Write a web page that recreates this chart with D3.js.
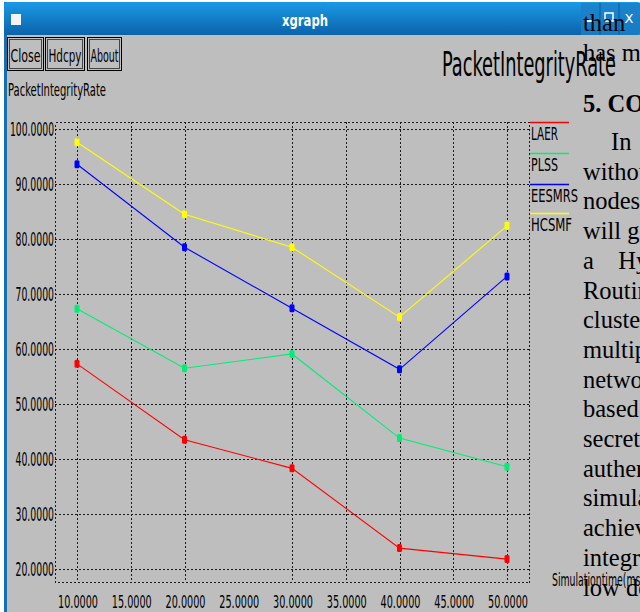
<!DOCTYPE html>
<html>
<head>
<meta charset="utf-8">
<script src="https://cdn.jsdelivr.net/npm/d3@7"></script>
<style>
  body { margin: 0; background: #fff; }
  svg { display: block; }
  .xg { font-family: "Liberation Sans Narrow", "DejaVu Sans Condensed", "Liberation Sans", sans-serif; fill: #000; }
  .doc { font-family: "Liberation Serif", "DejaVu Serif", serif; font-size: 24.5px; fill: #000; }
</style>
</head>
<body>
<div id="chart"></div>
<script>
// Packet integrity rate vs simulation time (xgraph screenshot)
const xValues = [10, 20, 30, 40, 50];
const seriesNames = ["LAER", "PLSS", "EESMRS", "HCSMF"];
const laer   = [57.3, 43.5, 38.3, 23.8, 21.8];
const plss   = [67.3, 56.5, 59.1, 43.8, 38.6];
const eesmrs = [93.6, 78.5, 67.4, 56.3, 73.2];
const hcsmf  = [97.6, 84.5, 78.5, 65.8, 82.4];
const seriesColors = ["#ff0000", "#00ee76", "#0000ff", "#ffff00"];

const xTicks = [10, 15, 20, 25, 30, 35, 40, 45, 50];
const xTickLabels = ["10.0000", "15.0000", "20.0000", "25.0000", "30.0000", "35.0000", "40.0000", "45.0000", "50.0000"];
const yTicks = [20, 30, 40, 50, 60, 70, 80, 90, 100];
const yTickLabels = ["20.0000", "30.0000", "40.0000", "50.0000", "60.0000", "70.0000", "80.0000", "90.0000", "100.0000"];

// words of the document page lying over the right edge of the screenshot
const docTop = ["than", "has more"];
const docHeading = "5. CONCLUSION";
const docLines = ["In", "without", "nodes", "will get", "a    Hybrid", "Routing", "clusters", "multipath",
  "network", "based", "secret", "authentication", "simulation", "achieve", "integrity", "low delay"];

const width = 640, height = 612;
const frame = { left: 55, right: 529, top: 122, bottom: 582 };
const gray = "#bebebe";

const svg = d3.select("#chart").append("svg")
  .attr("width", width)
  .attr("height", height);

// window body
svg.append("rect").attr("width", width).attr("height", height).attr("fill", "#fff");
svg.append("rect").attr("x", 4).attr("y", 2).attr("width", width - 4).attr("height", height - 2).attr("fill", gray);
svg.append("rect").attr("x", 4).attr("y", 2).attr("width", 3).attr("height", height - 2).attr("fill", "#1570b0");

// title bar
const grad = svg.append("defs").append("linearGradient")
  .attr("id", "tb").attr("x1", 0).attr("y1", 0).attr("x2", 0).attr("y2", 1);
grad.append("stop").attr("offset", "0%").attr("stop-color", "#1a9ae6");
grad.append("stop").attr("offset", "100%").attr("stop-color", "#0b63aa");
svg.append("rect").attr("x", 4).attr("y", 2).attr("width", width - 4).attr("height", 33).attr("rx", 3).attr("fill", "url(#tb)");
svg.append("rect").attr("x", 11).attr("y", 14).attr("width", 10).attr("height", 11).attr("fill", "#f4f4f4");
svg.append("text")
  .attr("x", 305).attr("y", 26)
  .attr("text-anchor", "middle")
  .style("font-family", "DejaVu Sans, sans-serif")
  .style("font-weight", "bold")
  .style("font-size", "15px")
  .attr("fill", "#fff")
  .attr("textLength", 46).attr("lengthAdjust", "spacingAndGlyphs")
  .text("xgraph");

// window buttons (top right)
svg.append("rect").attr("x", 581).attr("y", 3).attr("width", 59).attr("height", 32).attr("fill", "#1b7fc8").attr("opacity", 0.8);
[600, 619].forEach(xx => svg.append("line")
  .attr("x1", xx).attr("x2", xx).attr("y1", 3).attr("y2", 35)
  .attr("stroke", "#0a5a98"));
svg.append("rect").attr("x", 586).attr("y", 20).attr("width", 8).attr("height", 2).attr("fill", "#fff");
svg.append("rect").attr("x", 605).attr("y", 13).attr("width", 8).attr("height", 8).attr("fill", "none").attr("stroke", "#fff").attr("stroke-width", 1.5);
svg.append("text").attr("x", 629).attr("y", 23).attr("text-anchor", "middle")
  .style("font-family", "DejaVu Sans, sans-serif").style("font-size", "13px").attr("fill", "#fff").text("X");

// xgraph buttons
const buttons = [
  { label: "Close", x: 7, w: 36 },
  { label: "Hdcpy", x: 45, w: 39 },
  { label: "About", x: 87, w: 34 }
];
buttons.forEach(b => {
  svg.append("rect").attr("x", b.x + 0.5).attr("y", 37.5).attr("width", b.w).attr("height", 33)
    .attr("fill", "none").attr("stroke", "#000");
  svg.append("rect").attr("x", b.x + 2.5).attr("y", 39.5).attr("width", b.w - 4).attr("height", 29)
    .attr("fill", "none").attr("stroke", "#444");
  svg.append("text").attr("class", "xg")
    .attr("x", b.x + b.w / 2 + 0.5).attr("y", 62)
    .attr("text-anchor", "middle")
    .style("font-size", "18px")
    .attr("textLength", b.w - 6).attr("lengthAdjust", "spacingAndGlyphs")
    .text(b.label);
});

svg.append("text").attr("class", "xg")
  .attr("x", 8).attr("y", 96)
  .style("font-size", "18px")
  .attr("textLength", 98).attr("lengthAdjust", "spacingAndGlyphs")
  .text("PacketIntegrityRate");

svg.append("text").attr("class", "xg")
  .attr("x", 442).attr("y", 76)
  .style("font-size", "34px")
  .attr("textLength", 174).attr("lengthAdjust", "spacingAndGlyphs")
  .text("PacketIntegrityRate");

// scales
const x = d3.scaleLinear().domain([10, 50]).range([77, 507]);
const y = d3.scaleLinear().domain([20, 100]).range([569, 129]);

const dotted = sel => sel
  .attr("stroke", "#1a1a1a")
  .attr("stroke-width", 1)
  .attr("stroke-dasharray", "2,2")
  .attr("shape-rendering", "crispEdges");

// frame
svg.append("rect")
  .attr("x", frame.left + 0.5).attr("y", frame.top + 0.5)
  .attr("width", frame.right - frame.left).attr("height", frame.bottom - frame.top)
  .attr("fill", "none")
  .call(dotted);

// grid lines (the 25 line is not drawn in the original)
svg.append("g").selectAll("line")
  .data(xTicks.filter(d => d !== 25))
  .join("line")
  .attr("x1", d => Math.round(x(d)) + 0.5).attr("x2", d => Math.round(x(d)) + 0.5)
  .attr("y1", frame.top).attr("y2", frame.bottom)
  .call(dotted);

svg.append("g").selectAll("line")
  .data(yTicks)
  .join("line")
  .attr("x1", frame.left).attr("x2", frame.right)
  .attr("y1", d => Math.round(y(d)) + 0.5).attr("y2", d => Math.round(y(d)) + 0.5)
  .call(dotted);

// tick labels
svg.append("g").selectAll("text")
  .data(yTicks)
  .join("text")
  .attr("class", "xg")
  .attr("x", frame.left - 1)
  .attr("y", d => y(d) + 7)
  .attr("text-anchor", "end")
  .style("font-size", "19px")
  .attr("textLength", (d, i) => yTickLabels[i].length * 5.5)
  .attr("lengthAdjust", "spacingAndGlyphs")
  .text((d, i) => yTickLabels[i]);

svg.append("g").selectAll("text")
  .data(xTicks)
  .join("text")
  .attr("class", "xg")
  .attr("x", d => x(d) + 1)
  .attr("y", 608)
  .attr("text-anchor", "middle")
  .style("font-size", "18px")
  .attr("textLength", 40)
  .attr("lengthAdjust", "spacingAndGlyphs")
  .text((d, i) => xTickLabels[i]);

svg.append("text").attr("class", "xg")
  .attr("x", 552).attr("y", 586)
  .style("font-size", "17px")
  .attr("textLength", 92).attr("lengthAdjust", "spacingAndGlyphs")
  .text("Simulationtime(ms)");

// series
const allSeries = [laer, plss, eesmrs, hcsmf];
const line = d3.line().x((d, i) => x(xValues[i])).y(d => y(d));

allSeries.forEach((vals, s) => {
  svg.append("path")
    .datum(vals)
    .attr("fill", "none")
    .attr("stroke", seriesColors[s])
    .attr("stroke-width", 1.1)
    .attr("d", line);
  svg.append("g").selectAll("rect")
    .data(vals)
    .join("rect")
    .attr("x", (d, i) => x(xValues[i]) - 2.5)
    .attr("y", d => y(d) - 4)
    .attr("width", 5)
    .attr("height", 8)
    .attr("rx", 1.5)
    .attr("fill", seriesColors[s]);
});

// legend
const legendLineY = [122, 153, 184, 213];
const legendWidths = [27, 27, 47, 41];
seriesNames.forEach((name, i) => {
  svg.append("line")
    .attr("x1", 530).attr("x2", 569)
    .attr("y1", legendLineY[i] + 0.5).attr("y2", legendLineY[i] + 0.5)
    .attr("stroke", seriesColors[i]).attr("stroke-width", 1.5);
  svg.append("text").attr("class", "xg")
    .attr("x", 531).attr("y", legendLineY[i] + 18)
    .style("font-size", "18px")
    .attr("textLength", legendWidths[i]).attr("lengthAdjust", "spacingAndGlyphs")
    .text(name);
});

// document text over the right edge
const doc = svg.append("g").attr("class", "doc");
doc.append("text").attr("x", 583).attr("y", 31).text(docTop[0]);
doc.append("text").attr("x", 583).attr("y", 61).text(docTop[1]);
doc.append("text").attr("x", 583).attr("y", 112).style("font-weight", "bold").text(docHeading);
docLines.forEach((t, i) => {
  doc.append("text")
    .attr("x", i === 0 ? 611 : 583)
    .attr("y", 150 + i * 29.7)
    .attr("xml:space", "preserve")
    .style("white-space", "pre")
    .text(t);
});
</script>
</body>
</html>
